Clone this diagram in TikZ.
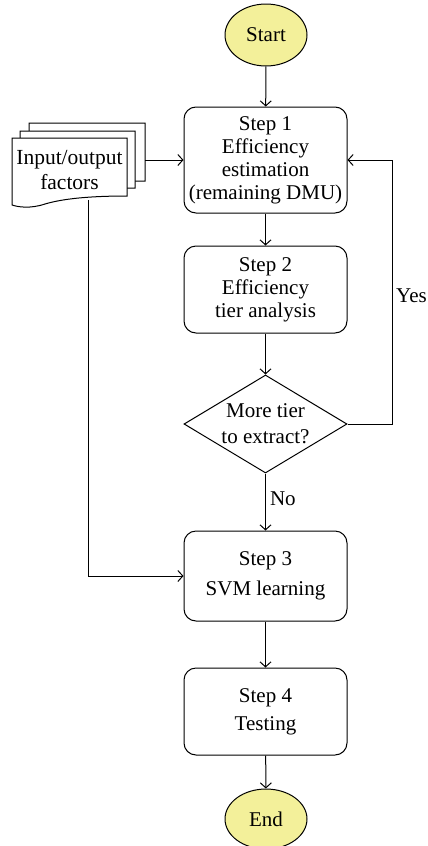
\documentclass[tikz,border=0pt]{standalone}
\usepackage{fontspec}
\setmainfont{Liberation Serif}
\usetikzlibrary{arrows.meta,shapes.geometric,positioning}
\definecolor{termyellow}{HTML}{F3F09A}
\tikzset{
  conn/.style={line width=1pt,-{Straight Barb[length=5pt,width=11pt]}},
  stepbox/.style={draw,line width=1pt,rounded corners=12pt,minimum width=163pt,align=center,font=\fontsize{21}{23}\selectfont,inner sep=0pt},
  term/.style={draw,line width=1pt,ellipse,fill=termyellow,minimum width=82pt,minimum height=62pt,inner sep=0pt,font=\fontsize{21}{23}\selectfont},
  decision/.style={draw,line width=1pt,diamond,aspect=1.66,minimum width=163pt,minimum height=98pt,inner sep=0pt,align=center,font=\fontsize{21}{26}\selectfont},
  doc/.style={draw,line width=1pt,fill=white},
  lbl/.style={font=\fontsize{21}{23}\selectfont,inner sep=0pt}
}
\begin{document}
\begin{tikzpicture}[x=1pt,y=-1pt]
\useasboundingbox (0,0) rectangle (428,846);
\node[term] (start) at (266,35) {Start};
\node[stepbox,minimum height=106pt] (s1) at (265.5,160) {Step 1\\Efficiency\\estimation\\(remaining DMU)};
\node[stepbox,minimum height=87pt] (s2) at (265.5,289.5) {Step 2\\Efficiency\\tier analysis};
\node[decision] (dec) at (265.5,424) {More tier\\to extract?};
\node[stepbox,minimum height=90pt,font=\fontsize{21}{30}\selectfont] (s3) at (265.5,576) {Step 3\\SVM learning};
\node[stepbox,minimum height=87pt,font=\fontsize{21}{28}\selectfont] (s4) at (265.5,711.5) {Step 4\\Testing};
\node[term,minimum height=60pt] (end) at (266,819) {End};
% document stack
\draw[doc] (29,123) -- (145,123) -- (145,181) .. controls (110,181) and (80,183) .. (60,188) .. controls (45,192) and (35,190) .. (29,188) -- cycle;
\draw[doc] (20,131) -- (135,131) -- (135,188) .. controls (100,188) and (70,190) .. (52,195) .. controls (37,199) and (27,197) .. (20,195) -- cycle;
\draw[doc] (12,138) -- (127,138) -- (127,196) .. controls (95,196) and (65,198) .. (45,204) .. controls (30,209) and (18,207) .. (12,205) -- cycle;
\node[lbl,align=center,font=\fontsize{21.5}{25}\selectfont] (io) at (69.5,170) {Input/output\\factors};
\coordinate (docr) at (145,160);
\coordinate (docb) at (88,200);
\coordinate (bendio) at (88,576);
\coordinate (yesr) at (392,424);
\coordinate (yest) at (392,160);
% connectors
\draw[conn] (start) -- (s1);
\draw[conn] (s1) -- (s2);
\draw[conn] (s2) -- (dec);
\draw[conn] (dec) -- node[lbl,anchor=west,pos=0.45,xshift=4pt] (no) {No} (s3);
\draw[conn] (s3) -- (s4);
\draw[conn] (s4) -- (end);
\draw[conn] (docr) -- (s1.west |- docr);
\draw[conn] (docb) -- (bendio) -- (s3.west);
\draw[conn] (dec.east) -- (yesr) -- (yest) -- (s1.east);
\node[lbl,anchor=east] (yes) at (427,296) {Yes};
\end{tikzpicture}
\end{document}
